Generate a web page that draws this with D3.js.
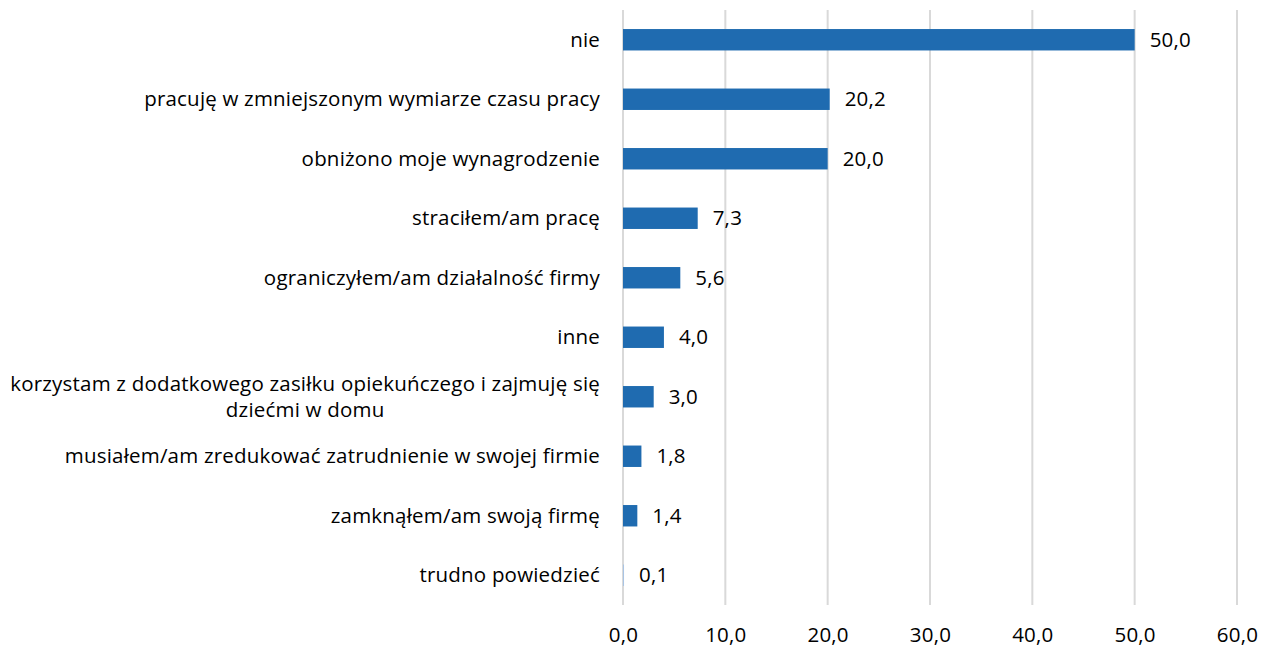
<!DOCTYPE html>
<html>
<head>
<meta charset="utf-8">
<script src="https://cdn.jsdelivr.net/npm/d3@7"></script>
<style>
  body { margin: 0; background: #fff; }
  text { font-family: "Open Sans", sans-serif; fill: #000; letter-spacing: 0.2px; }
</style>
</head>
<body>
<div id="chart"></div>
<script>
// Values
const categories = [
  "nie",
  "pracuję w zmniejszonym wymiarze czasu pracy",
  "obniżono moje wynagrodzenie",
  "straciłem/am pracę",
  "ograniczyłem/am działalność firmy",
  "inne",
  "korzystam z dodatkowego zasiłku opiekuńczego i zajmuję się dziećmi w domu",
  "musiałem/am zredukować zatrudnienie w swojej firmie",
  "zamknąłem/am swoją firmę",
  "trudno powiedzieć"
];
const values = [50.0, 20.2, 20.0, 7.3, 5.6, 4.0, 3.0, 1.8, 1.4, 0.1];
const xTicks = [0, 10, 20, 30, 40, 50, 60];

const width = 1273;
const height = 649;
const plotLeft = 623, plotRight = 1237, plotTop = 10, plotBottom = 605;
const fontSize = 20.5;
const fmt = (v) => d3.format(".1f")(v).replace(".", ",");

const svg = d3.select("#chart").append("svg").attr("width", width).attr("height", height);

const x = d3.scaleLinear().domain([0, 60]).range([plotLeft, plotRight]);
const y = d3.scaleBand().domain(categories).range([plotTop, plotBottom]).paddingInner(0.64).paddingOuter(0.32);

// vertical grid lines
svg.selectAll(".grid")
  .data(xTicks)
  .enter()
  .append("line")
  .attr("class", "grid")
  .attr("x1", (d) => x(d)).attr("x2", (d) => x(d))
  .attr("y1", plotTop).attr("y2", plotBottom)
  .attr("stroke", "#d9d9d9")
  .attr("stroke-width", 2);

// x axis labels
const xAxis = d3.axisBottom(x).tickValues(xTicks).tickSize(0).tickPadding(22).tickFormat(fmt);
const gx = svg.append("g").attr("transform", `translate(0,${plotBottom})`).call(xAxis);
gx.select(".domain").remove();
gx.selectAll("text").attr("font-size", fontSize).style("font-family", "'Open Sans', sans-serif").attr("fill", "#000");

// bars
svg.selectAll(".bar")
  .data(values)
  .enter()
  .append("rect")
  .attr("class", "bar")
  .attr("x", x(0))
  .attr("y", (d, i) => y(categories[i]))
  .attr("width", (d) => x(d) - x(0))
  .attr("height", y.bandwidth())
  .attr("fill", (d) => (d < 0.5 ? "#a9c4e4" : "#1f6bb0"));

// value labels
svg.selectAll(".val")
  .data(values)
  .enter()
  .append("text")
  .attr("class", "val")
  .attr("x", (d) => x(d) + 15)
  .attr("y", (d, i) => y(categories[i]) + y.bandwidth() / 2)
  .attr("dy", "0.35em")
  .attr("font-size", fontSize)
  .text((d) => fmt(d));

// category labels, wrapped when too wide
const labelRight = 600;
const maxWidth = 598;
categories.forEach((c, i) => {
  const cy = y(c) + y.bandwidth() / 2;
  const g = svg.append("g");
  const probe = g.append("text").attr("font-size", fontSize).text(c);
  if (probe.node().getComputedTextLength() <= maxWidth) {
    probe.attr("x", labelRight).attr("y", cy).attr("dy", "0.35em").attr("text-anchor", "end");
    return;
  }
  probe.remove();
  const words = c.split(" ");
  const lines = [];
  let line = [];
  const t = g.append("text").attr("font-size", fontSize);
  words.forEach((w) => {
    line.push(w);
    t.text(line.join(" "));
    if (t.node().getComputedTextLength() > maxWidth && line.length > 1) {
      line.pop();
      lines.push(line.join(" "));
      line = [w];
    }
  });
  lines.push(line.join(" "));
  const widths = lines.map((l) => { t.text(l); return t.node().getComputedTextLength(); });
  t.remove();
  const blockW = d3.max(widths);
  const lh = 26;
  lines.forEach((l, k) => {
    g.append("text")
      .attr("font-size", fontSize)
      .attr("text-anchor", "middle")
      .attr("x", labelRight - blockW / 2)
      .attr("y", cy + (k - (lines.length - 1) / 2) * lh)
      .attr("dy", "0.35em")
      .text(l);
  });
});
</script>
</body>
</html>
